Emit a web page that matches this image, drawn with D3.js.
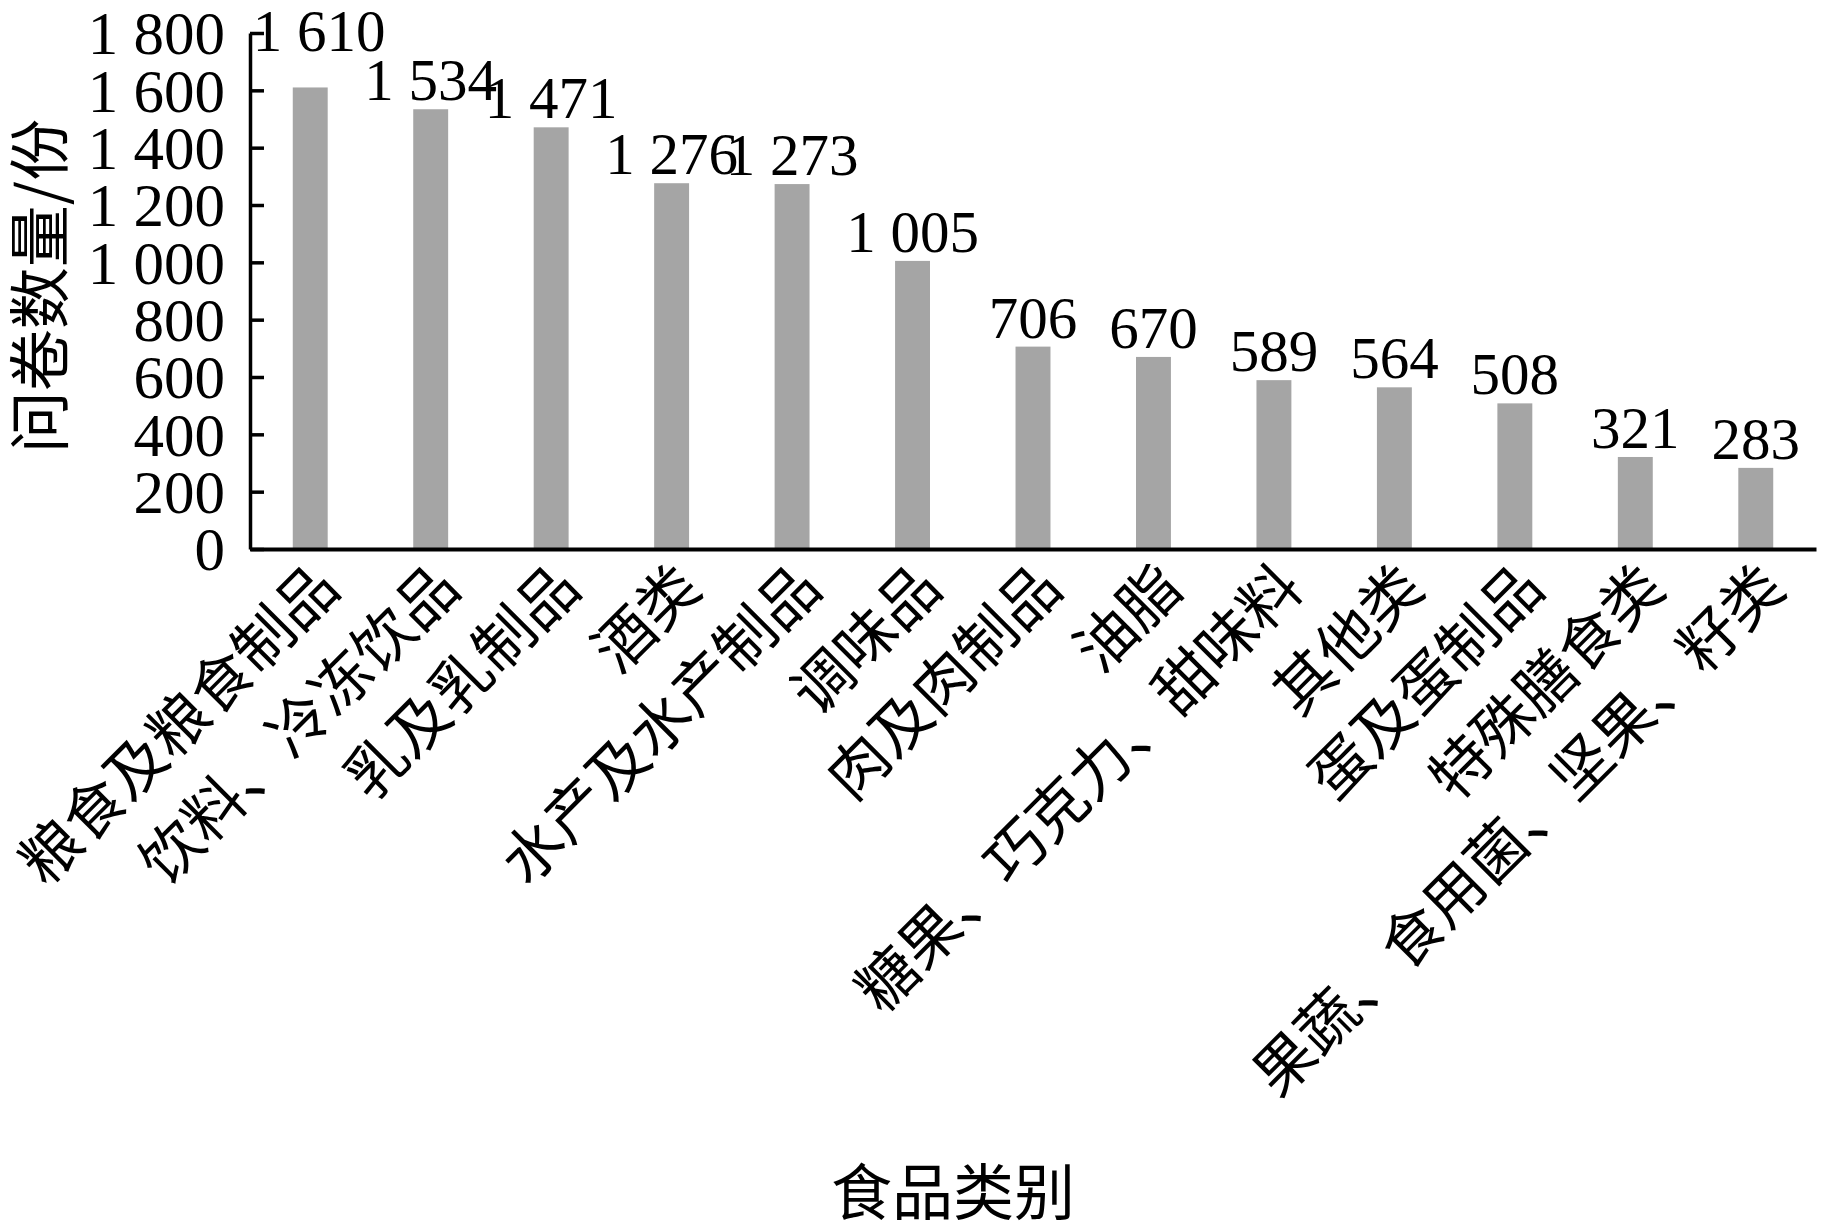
<!DOCTYPE html>
<html><head><meta charset="utf-8">
<script src="https://cdn.jsdelivr.net/npm/d3@7"></script>
<style>
html,body{margin:0;padding:0;background:#fff;}
svg{display:block;}
text{text-spacing-trim: space-all;}
</style></head>
<body>
<svg id="chart" width="1823" height="1231"></svg>
<script>
const categories = ["粮食及粮食制品","饮料、冷冻饮品","乳及乳制品","酒类","水产及水产制品","调味品","肉及肉制品","油脂","糖果、巧克力、甜味料","其他类","蛋及蛋制品","特殊膳食类","果蔬、食用菌、坚果、籽类"];
const values = [1610,1534,1471,1276,1273,1005,706,670,589,564,508,321,283];
const yTicks = [0,200,400,600,800,1000,1200,1400,1600,1800];
const yTitle = "问卷数量/份";
const xTitle = "食品类别";

(function(){
const numFont = "'Liberation Serif','Times New Roman',serif";
const cjkFont = "'Noto Sans CJK SC','Noto Sans CJK JP',sans-serif";

const svg = d3.select("#chart");
const mLeft = 250, mRight = 1816, mTop = 33, mBottom = 549;

const x = d3.scaleBand().domain(categories).range([mLeft, mRight]).paddingInner(0.71).paddingOuter(0.355);
const y = d3.scaleLinear().domain([0,1800]).range([mBottom, mTop]);
const fmt = v => d3.format(",")(v).replace(/,/g, " ");

// bars
svg.append("g").selectAll("rect").data(values).join("rect")
  .attr("x", (d,i) => x(categories[i]))
  .attr("width", x.bandwidth())
  .attr("y", d => y(d))
  .attr("height", d => y(0) - y(d))
  .attr("fill", "#a5a5a5");

// y axis
const yAxis = d3.axisLeft(y).tickValues(yTicks).tickFormat(fmt).tickSize(-14).tickPadding(25).tickSizeOuter(0);
const gy = svg.append("g").attr("transform", `translate(${mLeft},0)`).call(yAxis);
gy.select(".domain").attr("stroke","#000").attr("stroke-width",3.5);
gy.selectAll(".tick line").attr("stroke","#000").attr("stroke-width",3.5);
gy.selectAll(".tick text").attr("font-family", numFont).attr("font-size", 61).attr("fill","#000").attr("dy","0.34em");

// x axis
const xAxis = d3.axisBottom(x).tickSize(0).tickSizeOuter(0).tickFormat("");
const gx = svg.append("g").attr("transform", `translate(0,${mBottom})`).call(xAxis);
gx.select(".domain").attr("stroke","#000").attr("stroke-width",4);

// x category labels rotated
svg.append("g").selectAll("text").data(categories).join("text")
  .attr("transform", d => `translate(${x(d) + x.bandwidth()/2 + 32},${mBottom + 42}) rotate(-45)`)
  .attr("text-anchor","end")
  .attr("font-family", cjkFont)
  .attr("font-size", 60)
  .attr("fill","#000")
  .text(d => d);

// value labels
const maxV = d3.max(values);
svg.append("g").selectAll("text").data(values).join("text")
  .attr("x", (d,i) => x(categories[i]) + x.bandwidth()/2 + (d === maxV ? 9 : 0))
  .attr("y", d => y(d) - 9 - (d === maxV ? 27 : 0))
  .attr("text-anchor","middle")
  .attr("font-family", numFont)
  .attr("font-size", 59)
  .attr("fill","#000")
  .text(fmt);

// axis titles
svg.append("text")
  .attr("transform", `translate(63,286) rotate(-90)`)
  .attr("text-anchor","middle")
  .attr("font-family", cjkFont)
  .attr("font-size", 62)
  .attr("fill","#000")
  .text(yTitle);

svg.append("text")
  .attr("x", 953).attr("y", 1215)
  .attr("text-anchor","middle")
  .attr("font-family", cjkFont)
  .attr("font-size", 61)
  .attr("fill","#000")
  .text(xTitle);
})();
</script>
</body></html>
